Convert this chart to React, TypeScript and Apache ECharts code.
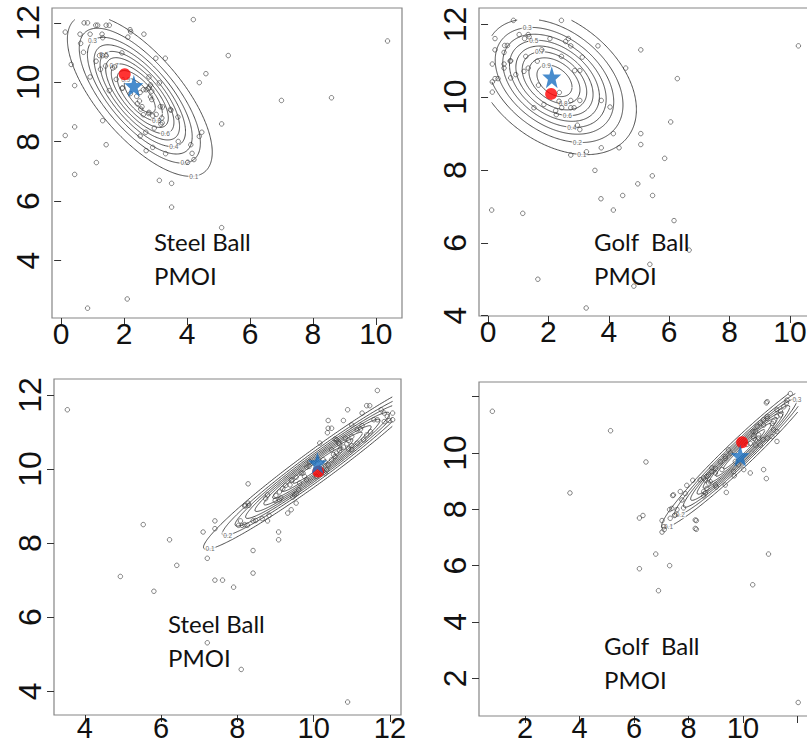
import React, { useEffect, useRef } from "react";
import * as echarts from "echarts";

// ---------- data ----------
const LEVELS = [0.1, 0.2, 0.3, 0.4, 0.5, 0.6, 0.7, 0.8, 0.9];

const steelTopPoints: number[][] = [
  [0.13, 11.69], [0.73, 12.0], [0.84, 12.0], [1.1, 11.92], [1.16, 11.92], [1.43, 11.92], [1.53, 11.92],
  [0.6, 11.62], [0.92, 11.62], [0.62, 11.31], [1.3, 11.62], [1.32, 11.5], [0.71, 11.01], [0.32, 10.6],
  [1.11, 10.71], [1.22, 10.9], [1.32, 10.9], [1.43, 10.89], [1.41, 10.55], [1.25, 10.44], [1.7, 10.52],
  [0.92, 10.18], [0.43, 9.89], [1.93, 10.99], [2.19, 11.77], [2.21, 11.7], [2.12, 11.52], [2.63, 11.62],
  [3.01, 10.81], [3.31, 10.81], [4.2, 12.11], [5.31, 10.9], [4.6, 10.29], [4.39, 9.99], [10.37, 11.39],
  [7.0, 9.39], [8.59, 9.48], [5.1, 8.6], [4.47, 8.32], [4.39, 8.18], [4.12, 7.9], [3.72, 8.01], [4.22, 7.4],
  [4.02, 7.31], [3.32, 7.6], [2.91, 7.81], [2.7, 7.7], [3.12, 6.7], [3.51, 6.6], [3.51, 5.8], [5.1, 5.11],
  [2.1, 2.71], [0.84, 2.4], [0.43, 6.9], [1.12, 7.3], [1.43, 7.9], [0.43, 8.5], [0.13, 8.21], [1.32, 8.71],
  [2.51, 8.19], [2.69, 8.32], [2.8, 9.84], [2.7, 9.75], [2.61, 9.75], [2.51, 9.66], [2.4, 9.53], [2.42, 9.28],
  [2.53, 9.1], [2.61, 8.91], [2.79, 8.99], [2.88, 9.42], [3.12, 9.98], [2.79, 10.18], [3.22, 9.17], [3.2, 8.8],
  [3.49, 9.06], [2.96, 8.46], [3.17, 8.59], [1.95, 9.81], [1.53, 9.72], [1.64, 10.48], [2.88, 9.7],
  [2.84, 9.91], [2.78, 9.8], [2.84, 9.51], [2.49, 9.37], [2.57, 9.18], [2.78, 8.95], [2.91, 8.87], [3.02, 8.92],
  [3.15, 9.18], [3.47, 9.09], [3.71, 8.83], [3.21, 8.64], [1.75, 10.1], [1.94, 9.8], [2.2, 9.62], [4.16, 7.61]
];

const golfTopPoints: number[][] = [
  [0.84, 12.11], [2.43, 12.11], [0.23, 11.61], [0.23, 11.3], [1.03, 11.72], [1.33, 11.72], [1.21, 11.61],
  [0.55, 11.42], [0.64, 11.42], [0.53, 11.23], [0.75, 11.0], [0.14, 10.91], [0.14, 10.42], [0.14, 10.14],
  [0.53, 10.91], [0.53, 10.8], [0.33, 10.51], [0.75, 10.53], [0.92, 10.62], [1.63, 10.99], [1.78, 11.3],
  [2.05, 11.61], [2.57, 11.53], [2.66, 11.61], [2.74, 11.41], [2.43, 11.12], [3.12, 11.1], [3.64, 11.41],
  [5.06, 11.3], [4.56, 10.8], [6.27, 10.51], [1.25, 11.12], [1.33, 10.8], [1.19, 10.71], [1.67, 10.33],
  [2.87, 10.73], [3.04, 10.73], [1.52, 9.71], [1.85, 9.8], [2.24, 9.63], [2.26, 9.52], [2.44, 9.71],
  [2.74, 9.71], [2.85, 9.71], [2.74, 9.91], [3.04, 9.91], [2.35, 9.89], [3.75, 9.91], [4.04, 9.73],
  [2.96, 9.23], [3.04, 9.11], [4.15, 9.0], [5.06, 9.0], [5.06, 8.7], [6.05, 9.32], [3.75, 8.61], [4.34, 8.61],
  [3.26, 8.5], [2.74, 8.41], [5.85, 8.32], [3.54, 7.99], [5.44, 7.84], [4.96, 7.62], [3.74, 7.21], [4.46, 7.3],
  [5.45, 7.3], [4.15, 6.9], [6.16, 6.61], [0.12, 6.9], [1.15, 6.81], [1.65, 5.0], [6.66, 5.8], [5.36, 5.41],
  [4.83, 4.81], [3.25, 4.21], [10.28, 11.41], [2.36, 10.13], [1.36, 11.66], [0.23, 10.51], [0.73, 10.99]
];

const steelBottomPoints: number[][] = [
  [3.54, 11.6], [4.93, 7.1], [5.53, 8.5], [5.81, 6.7], [6.22, 8.09], [6.41, 7.4], [7.1, 8.3], [7.21, 7.59],
  [7.41, 8.6], [7.41, 8.39], [7.41, 7.0], [7.61, 7.0], [7.9, 6.81], [7.21, 5.31], [8.1, 4.59], [10.89, 3.71],
  [8.41, 7.8], [8.41, 7.19], [8.79, 8.6], [9.08, 8.3], [9.08, 8.09], [8.28, 9.6], [8.28, 9.08], [8.19, 9.0],
  [8.08, 8.6], [8.19, 8.5], [8.41, 8.6], [8.79, 9.3], [8.99, 9.15], [9.1, 9.17], [9.14, 9.22], [9.38, 9.57],
  [9.43, 9.71], [9.5, 9.3], [9.61, 9.44], [9.72, 9.89], [9.76, 9.8], [9.88, 10.07], [10.0, 10.16],
  [10.12, 10.25], [10.16, 10.7], [10.34, 9.98], [10.38, 10.11], [10.47, 10.25], [10.56, 10.34], [10.38, 11.31],
  [10.38, 11.1], [10.47, 11.1], [10.36, 10.98], [10.6, 10.79], [10.65, 10.7], [10.71, 10.56], [10.78, 11.31],
  [10.89, 11.6], [11.0, 11.19], [10.83, 10.83], [10.91, 10.77], [11.0, 10.88], [11.14, 11.06], [11.27, 11.17],
  [11.27, 11.51], [11.39, 11.71], [11.47, 11.71], [11.67, 12.12], [11.77, 11.6], [11.85, 11.51], [11.93, 11.42],
  [12.07, 11.51], [12.07, 11.33], [11.58, 11.33], [11.67, 11.33], [11.85, 11.28], [11.98, 11.31], [11.39, 10.92],
  [11.49, 11.01], [11.0, 10.52], [11.14, 10.7], [10.25, 10.25], [10.2, 10.07], [9.54, 9.08], [9.41, 8.9],
  [9.32, 8.81], [9.63, 9.62], [9.81, 9.71], [10.07, 9.8], [10.3, 9.89], [10.47, 10.52], [10.6, 10.43],
  [11.31, 10.79], [10.56, 10.81], [10.68, 10.68], [10.78, 10.59], [10.68, 10.5], [10.52, 10.39], [11.23, 11.08],
  [10.87, 10.68], [11.0, 10.63], [10.91, 10.54], [9.89, 10.2], [9.82, 10.05], [9.67, 9.89], [10.3, 10.19],
  [9.54, 9.78], [9.41, 9.69], [9.27, 9.56], [9.19, 9.47], [9.1, 9.38], [9.01, 9.29], [9.54, 9.33], [9.45, 9.24],
  [8.74, 9.2], [8.83, 8.75], [8.65, 8.66], [8.48, 8.61], [8.21, 9.02], [8.3, 9.02], [8.12, 8.48], [8.26, 8.48],
  [8.03, 8.48]
];

const golfBottomPoints: number[][] = [
  [0.8, 11.48], [5.14, 10.79], [3.65, 8.58], [6.44, 9.68], [6.2, 7.69], [6.33, 7.78], [6.2, 5.89], [6.8, 6.41],
  [6.9, 5.11], [7.31, 6.0], [7.03, 7.6], [7.03, 7.19], [7.11, 7.28], [7.42, 8.49], [7.31, 7.99], [7.49, 7.78],
  [8.29, 7.6], [8.29, 7.29], [7.94, 8.85], [8.16, 9.03], [8.56, 8.48], [8.62, 8.58], [9.02, 8.79], [9.39, 8.6],
  [9.68, 9.19], [10.03, 9.41], [10.27, 9.29], [10.76, 9.41], [10.86, 9.09], [10.94, 6.41], [10.36, 5.32],
  [12.03, 1.14], [10.86, 11.78], [11.74, 12.11], [11.6, 11.78], [11.38, 11.48], [11.25, 11.3], [11.13, 11.12],
  [10.89, 11.3], [10.76, 11.18], [10.64, 11.07], [10.52, 10.95], [11.25, 10.41], [10.37, 10.77], [10.39, 10.59],
  [10.46, 10.47], [10.58, 10.53], [10.74, 10.47], [10.89, 10.53], [10.15, 10.3], [9.72, 9.7], [9.84, 9.58],
  [9.54, 10.0], [9.35, 9.88], [8.86, 9.47], [8.99, 9.29], [9.23, 9.41], [8.43, 9.05], [8.56, 9.11], [8.68, 9.17],
  [8.74, 8.93], [7.82, 8.05], [7.58, 7.99], [11.62, 11.88], [11.5, 11.64], [11.25, 11.53], [11.38, 11.35],
  [10.89, 11.82], [10.89, 11.23], [10.76, 10.99], [11.07, 11.05], [11.13, 10.82], [11.25, 10.76], [11.07, 10.58],
  [10.46, 10.76], [10.58, 10.64], [10.39, 10.52], [10.27, 10.34], [10.46, 10.28], [10.64, 10.28], [9.47, 10.11],
  [9.35, 9.81], [9.17, 9.69], [8.99, 9.45], [8.86, 9.34], [8.74, 9.22], [8.62, 9.04], [8.8, 8.98], [8.99, 8.86],
  [8.68, 8.74], [8.56, 8.63], [9.66, 9.34], [9.35, 8.86], [7.45, 8.51], [7.7, 8.63], [7.76, 8.33], [7.88, 8.56],
  [7.39, 8.03], [7.51, 7.8], [7.33, 7.68], [7.09, 7.38], [8.25, 7.62], [8.25, 7.32]
];

const panelPoints = [steelTopPoints, golfTopPoints, steelBottomPoints, golfBottomPoints];

const redDots: number[][] = [[2.02, 10.27], [2.09, 10.09], [10.12, 9.93], [9.97, 10.38]];
const blueStars: number[][] = [[2.31, 9.88], [2.11, 10.55], [10.1, 10.16], [9.9, 9.9]];

// fitted bivariate normal per panel: centre and covariance [sxx, sxy, syy]
const contourCenters: number[][] = [[2.5, 9.55], [2.2, 10.45], [10.1, 10.1], [9.9, 10.0]];
const contourCovs: number[][] = [[1.15, -0.95, 1.6], [1.6, -0.466, 0.893], [1.94, 1.434, 1.12], [1.807, 1.621, 1.545]];
// data range over which density was evaluated [xmin, xmax, ymin, ymax]
const contourRanges: number[][] = [[0.13, 10.37, 2.4, 12.11], [0.12, 10.28, 4.21, 12.12], [3.54, 12.07, 3.71, 12.12], [0.8, 12.03, 1.14, 12.12]];
const labelLevelsLow: number[][] = [[0.1, 0.2, 0.4, 0.6, 0.8], [0.1, 0.2, 0.4, 0.6, 0.8], [0.1, 0.2], [0.1, 0.2]];
const labelLevelsHigh: number[][] = [[0.3, 0.5, 0.7, 0.9], [0.3, 0.5, 0.7, 0.9], [], [0.3]];
const labelAngles: number[][] = [[-0.73, 2.7], [-1.23, 2.05], [-2.8, 0], [-2.72, 0.05]];

const xRanges: number[][] = [[-0.29, 10.83], [-0.3, 10.83], [3.19, 12.29], [0.31, 12.5]];
const yRanges: number[][] = [[2.07, 12.5], [3.99, 12.45], [3.36, 12.43], [0.66, 12.52]];
const xTickValues: number[][] = [[0, 2, 4, 6, 8, 10], [0, 2, 4, 6, 8, 10], [4, 6, 8, 10, 12], [2, 4, 6, 8, 10, 12]];
const xLabelValues: number[][] = [[0, 2, 4, 6, 8, 10], [0, 2, 4, 6, 8, 10], [4, 6, 8, 10, 12], [2, 4, 6, 8, 10]];
const yTickValues: number[][] = [[4, 6, 8, 10, 12], [4, 6, 8, 10, 12], [4, 6, 8, 10, 12], [2, 4, 6, 8, 10, 12]];
const yLabelValues: number[][] = [[4, 6, 8, 10, 12], [4, 6, 8, 10, 12], [4, 6, 8, 10, 12], [2, 4, 6, 8, 10]];
const panelTitles: string[][] = [["Steel Ball", "PMOI"], ["Golf  Ball", "PMOI"], ["Steel Ball", "PMOI"], ["Golf  Ball", "PMOI"]];

// ---------- layout ----------
const GRIDS = [
  { left: 52, top: 8, width: 350, height: 310 },
  { left: 479, top: 8, width: 336, height: 308 },
  { left: 54, top: 379, width: 347, height: 336 },
  { left: 479, top: 382, width: 332, height: 334 },
];
const X_LABEL_FONT = [30, 30, 29, 29];
const X_LABEL_MARGIN = [3, 3, 1, 0];
const TITLE_POS = [[154, 241], [594, 241], [168, 623], [604, 645]];
const TITLE_LINE = 34;

const STAR = "path://M0,-10 L2.35,-3.24 L9.51,-3.09 L3.8,1.24 L5.88,8.09 L0,4 L-5.88,8.09 L-3.8,1.24 L-9.51,-3.09 L-2.35,-3.24 Z";

function chol(cov: number[]) {
  const [sxx, sxy, syy] = cov;
  const l11 = Math.sqrt(sxx);
  const l21 = sxy / l11;
  const l22 = Math.sqrt(syy - l21 * l21);
  return [l11, l21, l22];
}

function ellipsePoint(c: number[], L: number[], r: number, t: number) {
  const u = r * Math.cos(t);
  const v = r * Math.sin(t);
  return [c[0] + L[0] * u, c[1] + L[1] * u + L[2] * v];
}

function ellipseSegments(c: number[], cov: number[], r: number, rng: number[]) {
  const L = chol(cov);
  const n = 360;
  const inside = (p: number[]) => p[0] >= rng[0] && p[0] <= rng[1] && p[1] >= rng[2] && p[1] <= rng[3];
  const segs: number[][][] = [];
  let cur: number[][] = [];
  const pts: number[][] = [];
  for (let i = 0; i <= n; i++) pts.push(ellipsePoint(c, L, r, (2 * Math.PI * i) / n));
  for (const p of pts) {
    if (inside(p)) cur.push(p);
    else {
      if (cur.length > 1) segs.push(cur);
      cur = [];
    }
  }
  if (cur.length > 1) segs.push(cur);
  if (segs.length > 1 && inside(pts[0]) && inside(pts[n])) {
    const last = segs.pop() as number[][];
    segs[0] = last.concat(segs[0].slice(1));
  }
  return segs;
}

const levelRadius = (l: number) => Math.sqrt(-2 * Math.log(l));

function buildOption() {
  const grid: any[] = [];
  const xAxis: any[] = [];
  const yAxis: any[] = [];
  const series: any[] = [];
  const graphic: any[] = [];

  for (let k = 0; k < 4; k++) {
    grid.push({
      ...GRIDS[k],
      show: true,
      borderColor: "#858585",
      borderWidth: 1.2,
      backgroundColor: "transparent",
      containLabel: false,
      outerBoundsMode: "none",
    });
    xAxis.push({
      type: "value",
      gridIndex: k,
      min: xRanges[k][0],
      max: xRanges[k][1],
      splitLine: { show: false },
      axisLine: { show: false },
      axisTick: { show: true, length: 7, customValues: xTickValues[k], lineStyle: { color: "#333", width: 1 } },
      axisLabel: {
        show: true,
        customValues: xLabelValues[k],
        margin: X_LABEL_MARGIN[k],
        fontSize: X_LABEL_FONT[k],
        lineHeight: 24,
        fontFamily: "'Liberation Sans Narrow', 'Liberation Sans', Arial, sans-serif",
        color: "#111",
      },
    });
    yAxis.push({
      type: "value",
      gridIndex: k,
      min: yRanges[k][0],
      max: yRanges[k][1],
      splitLine: { show: false },
      axisLine: { show: false },
      axisTick: { show: true, length: 7, customValues: yTickValues[k], lineStyle: { color: "#333", width: 1 } },
      axisLabel: {
        show: true,
        customValues: yLabelValues[k],
        rotate: 90,
        margin: 8,
        fontSize: 32,
        fontFamily: "'Liberation Sans', Arial, sans-serif",
        color: "#111",
      },
    });

    // contours
    const c = contourCenters[k];
    const cov = contourCovs[k];
    for (const lv of LEVELS) {
      const segs = ellipseSegments(c, cov, levelRadius(lv), contourRanges[k]);
      for (const s of segs) {
        series.push({
          type: "line",
          xAxisIndex: k,
          yAxisIndex: k,
          data: s,
          showSymbol: false,
          symbol: "none",
          silent: true,
          z: 2,
          lineStyle: { color: "#3a3a3a", width: 0.9 },
        });
      }
    }

    // contour labels
    const L = chol(cov);
    const labData: any[] = [];
    labelLevelsLow[k].forEach((lv) => {
      labData.push({ name: String(lv), value: ellipsePoint(c, L, levelRadius(lv), labelAngles[k][0]) });
    });
    labelLevelsHigh[k].forEach((lv) => {
      labData.push({ name: String(lv), value: ellipsePoint(c, L, levelRadius(lv), labelAngles[k][1]) });
    });
    series.push({
      type: "scatter",
      xAxisIndex: k,
      yAxisIndex: k,
      data: labData,
      symbol: "circle",
      symbolSize: 1,
      silent: true,
      z: 3,
      itemStyle: { color: "rgba(255,255,255,0)" },
      label: {
        show: true,
        position: "inside",
        formatter: (p: any) => p.name,
        fontSize: 6.5,
        color: "#444444",
        textBorderWidth: 0,
        backgroundColor: "#ffffff",
        padding: [0, 1],
        fontFamily: "'Liberation Sans', Arial, sans-serif",
      },
    });

    // points
    series.push({
      type: "scatter",
      xAxisIndex: k,
      yAxisIndex: k,
      data: panelPoints[k],
      symbol: "circle",
      symbolSize: 4.5,
      silent: true,
      z: 4,
      itemStyle: { color: "rgba(255,255,255,0)", borderColor: "#3c3c3c", borderWidth: 0.8 },
    });

    // red dot and blue star
    series.push({
      type: "scatter",
      xAxisIndex: k,
      yAxisIndex: k,
      data: [redDots[k]],
      symbol: "circle",
      symbolSize: 12,
      silent: true,
      z: 5,
      itemStyle: { color: "#ff0000" },
    });
    series.push({
      type: "scatter",
      xAxisIndex: k,
      yAxisIndex: k,
      data: [blueStars[k]],
      symbol: STAR,
      symbolSize: [19, 22],
      silent: true,
      z: 6,
      itemStyle: { color: "#1a6fc0" },
    });

    // titles
    panelTitles[k].forEach((t, i) => {
      graphic.push({
        type: "text",
        x: TITLE_POS[k][0],
        y: TITLE_POS[k][1] + i * TITLE_LINE,
        silent: true,
        z: 10,
        style: {
          text: t,
          fontSize: 24,
          fontFamily: "Lato, 'Open Sans', sans-serif",
          fill: "#111",
          align: "left",
          verticalAlign: "middle",
        },
      });
    });
  }

  return {
    animation: false,
    backgroundColor: "#ffffff",
    grid,
    xAxis,
    yAxis,
    series,
    graphic,
  };
}

export default function App() {
  const ref = useRef<HTMLDivElement>(null);
  useEffect(() => {
    if (!ref.current) return;
    const chart = echarts.init(ref.current, undefined, { renderer: "svg" });
    chart.setOption(buildOption() as any);
    return () => chart.dispose();
  }, []);
  return (
    <div
      ref={ref}
      style={{ position: "absolute", left: 0, top: 0, width: 807, height: 744, background: "#fff", overflow: "hidden" }}
    />
  );
}
